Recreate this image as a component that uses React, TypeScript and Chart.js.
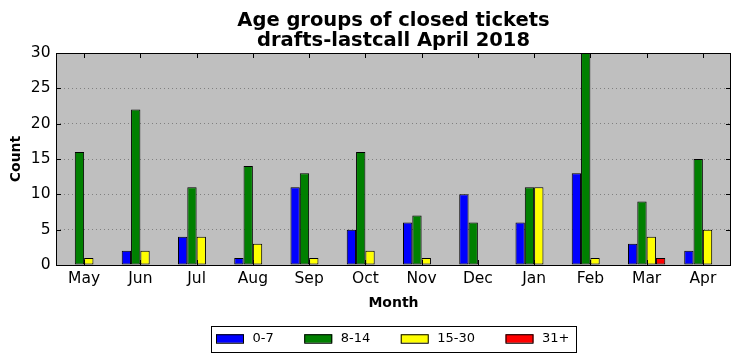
import React, { useEffect, useRef } from "react";
import { Chart, registerables } from "chart.js";

Chart.register(...registerables);

const months = ["May", "Jun", "Jul", "Aug", "Sep", "Oct", "Nov", "Dec", "Jan", "Feb", "Mar", "Apr"];
const age0to7 = [0, 2, 4, 1, 11, 5, 6, 10, 6, 13, 3, 2];
const age8to14 = [16, 22, 11, 14, 13, 16, 7, 6, 11, 30, 9, 15];
const age15to30 = [1, 2, 4, 3, 1, 2, 1, 0, 11, 1, 4, 5];
const age31plus = [0, 0, 0, 0, 0, 0, 0, 0, 0, 0, 1, 0];
const seriesNames = ["0-7", "8-14", "15-30", "31+"];
const seriesColors = ["#0000ff", "#008000", "#ffff00", "#ff0000"];
const titleLines = ["Age groups of closed tickets", "drafts-lastcall April 2018"];
const yMax = 30;
const yStep = 5;

const FONT = "'DejaVu Sans', sans-serif";

const decorPlugin = {
  id: "decor",
  beforeDraw(chart: any) {
    const { ctx, chartArea: a } = chart;
    ctx.save();
    ctx.fillStyle = "#ffffff";
    ctx.fillRect(0, 0, chart.width, chart.height);
    ctx.fillStyle = "#bfbfbf";
    ctx.fillRect(a.left, a.top, a.right - a.left, a.bottom - a.top);
    ctx.restore();
  },
  afterDraw(chart: any) {
    const { ctx, chartArea: a } = chart;
    const xs = chart.scales.x;
    const ys = chart.scales.y;
    ctx.save();
    // frame
    ctx.strokeStyle = "#000000";
    ctx.lineWidth = 1;
    ctx.strokeRect(Math.round(a.left) + 0.5, Math.round(a.top) + 0.5, Math.round(a.right - a.left) - 1, Math.round(a.bottom - a.top));
    // inward ticks
    const tl = 5;
    ctx.beginPath();
    for (let i = 0; i < months.length; i++) {
      const x = Math.round(xs.getPixelForTick(i)) + 0.5;
      ctx.moveTo(x, a.bottom);
      ctx.lineTo(x, a.bottom - tl);
      ctx.moveTo(x, a.top);
      ctx.lineTo(x, a.top + tl);
    }
    for (let v = 0; v <= yMax; v += yStep) {
      const y = Math.round(ys.getPixelForValue(v)) + 0.5;
      ctx.moveTo(a.left, y);
      ctx.lineTo(a.left + tl, y);
      ctx.moveTo(a.right, y);
      ctx.lineTo(a.right - tl, y);
    }
    ctx.stroke();

    // title
    const cx = (a.left + a.right) / 2;
    ctx.fillStyle = "#000000";
    ctx.font = `bold 19.5px ${FONT}`;
    ctx.textAlign = "center";
    ctx.textBaseline = "alphabetic";
    ctx.fillText(titleLines[0], cx, 25.5);
    ctx.fillText(titleLines[1], cx, 46);

    // legend
    ctx.font = `13px ${FONT}`;
    const padL = 5, padR = 6.5, boxW = 28, boxH = 8.5, boxGap = 8.5, itemGap = 30.5;
    const widths = seriesNames.map((n) => ctx.measureText(n).width);
    let total = padL + padR;
    widths.forEach((w, i) => {
      total += boxW + boxGap + w + (i < widths.length - 1 ? itemGap : 0);
    });
    const top = chart.height - 35;
    const h = 26;
    const left = Math.round(cx - total / 2);
    ctx.strokeStyle = "#000000";
    ctx.strokeRect(left + 0.5, top + 0.5, Math.round(total), h);
    let x = left + padL;
    const midY = top + 12.5;
    ctx.textAlign = "left";
    ctx.textBaseline = "middle";
    seriesNames.forEach((n, i) => {
      ctx.fillStyle = seriesColors[i];
      ctx.fillRect(x, midY - boxH / 2, boxW, boxH);
      ctx.strokeStyle = "#000000";
      ctx.strokeRect(x + 0.5, midY - boxH / 2 + 0.5, boxW - 1, boxH);
      ctx.fillStyle = "#000000";
      ctx.fillText(n, x + boxW + boxGap, midY + 0.5);
      x += boxW + boxGap + widths[i] + itemGap;
    });
    ctx.restore();
  },
};

export default function App() {
  const ref = useRef<HTMLCanvasElement | null>(null);
  useEffect(() => {
    if (!ref.current) return;
    const series = [age0to7, age8to14, age15to30, age31plus];
    const chart = new Chart(ref.current, {
      type: "bar",
      data: {
        labels: months,
        datasets: series.map((d, i) => ({
          label: seriesNames[i],
          data: d,
          backgroundColor: seriesColors[i],
          borderColor: "#000000",
          borderWidth: 1,
          borderSkipped: false,
          categoryPercentage: 0.663,
          barPercentage: 1,
        })),
      },
      plugins: [decorPlugin],
      options: {
        animation: false,
        responsive: true,
        maintainAspectRatio: false,
        devicePixelRatio: 1,
        layout: { padding: { left: 0, right: 11, top: 53, bottom: 46 } },
        plugins: {
          legend: { display: false },
          title: { display: false },
          tooltip: { enabled: false },
        },
        scales: {
          x: {
            grid: { display: false, drawTicks: false },
            border: { display: false },
            ticks: { color: "#000000", font: { family: FONT, size: 15.5 }, padding: 5, maxRotation: 0 },
            title: {
              display: true,
              text: "Month",
              color: "#000000",
              font: { family: FONT, size: 14, weight: "bold" },
              padding: { top: 0, bottom: 3 },
            },
            afterFit: (s: any) => {
              s.height = 50;
            },
          },
          y: {
            min: 0,
            max: yMax,
            ticks: { stepSize: yStep, color: "#000000", font: { family: FONT, size: 15.5 }, padding: 5.5 },
            grid: { color: "#808080", lineWidth: 1, drawTicks: false },
            border: { display: false, dash: [1, 3] },
            title: {
              display: true,
              text: "Count",
              color: "#000000",
              font: { family: FONT, size: 14, weight: "bold" },
              padding: { top: 7.5, bottom: 0 },
            },
            afterFit: (s: any) => {
              s.width = 56;
            },
          },
        },
      } as any,
    });
    return () => chart.destroy();
  }, []);
  return (
    <div style={{ position: "fixed", left: 0, top: 0, width: 742, height: 361 }}>
      <canvas ref={ref} />
    </div>
  );
}
